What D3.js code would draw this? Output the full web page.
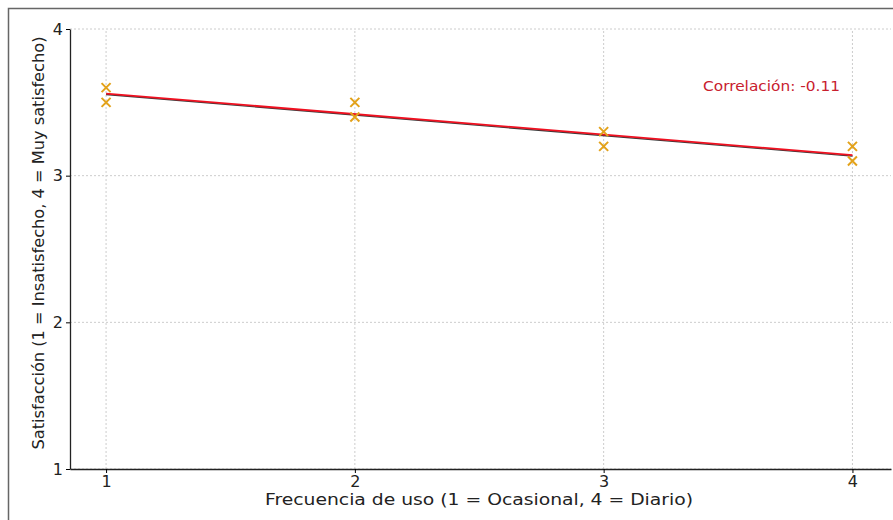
<!DOCTYPE html>
<html>
<head>
<meta charset="utf-8">
<script src="https://cdn.jsdelivr.net/npm/d3@7"></script>
<style>
  body { margin: 0; background: #fff; }
  svg { display: block; font-family: "DejaVu Sans", sans-serif; }
</style>
</head>
<body>
<div id="chart"></div>
<script>
// data
const frequency = [1, 1, 2, 2, 3, 3, 4, 4];
const satisfaction = [3.6, 3.5, 3.5, 3.4, 3.3, 3.2, 3.2, 3.1];
const xTicks = [1, 2, 3, 4];
const yTicks = [1, 2, 3, 4];
const corrLabel = "Correlación: -0.11";

const width = 893, height = 520;
const margin = { top: 29, right: 2, bottom: 51, left: 70 };

const svg = d3.select("#chart").append("svg")
    .attr("width", width)
    .attr("height", height);

// outer frame (cut at bottom/right in the reference)
svg.append("path")
    .attr("d", `M8.5,${height} V8.5 H${width}`)
    .attr("fill", "none")
    .attr("stroke", "#666")
    .attr("stroke-width", 1.5);

const x = d3.scaleLinear()
    .domain([0.855, 4.155])
    .range([margin.left, width - margin.right]);

const y = d3.scaleLinear()
    .domain([1, 4])
    .range([height - margin.bottom, margin.top]);

// grid
svg.append("g")
    .selectAll("line")
    .data(xTicks)
    .join("line")
    .attr("x1", d => x(d)).attr("x2", d => x(d))
    .attr("y1", y(1)).attr("y2", y(4))
    .attr("stroke", "#ccc")
    .attr("stroke-dasharray", "2,2");

svg.append("g")
    .selectAll("line")
    .data(yTicks)
    .join("line")
    .attr("x1", margin.left).attr("x2", width - margin.right)
    .attr("y1", d => y(d)).attr("y2", d => y(d))
    .attr("stroke", "#ccc")
    .attr("stroke-dasharray", "2,2");

// axes
svg.append("g")
    .attr("transform", `translate(0,${y(1)})`)
    .call(d3.axisBottom(x).tickValues(xTicks).tickFormat(d3.format("d")).tickSize(4).tickSizeOuter(0))
    .call(g => g.select(".domain").attr("stroke", "#222").attr("stroke-width", 1.3))
    .call(g => g.selectAll("text").attr("font-size", 16).attr("fill", "#222").attr("font-family", "DejaVu Sans"));

svg.append("g")
    .attr("transform", `translate(${margin.left},0)`)
    .call(d3.axisLeft(y).tickValues(yTicks).tickFormat(d3.format("d")).tickSize(4).tickSizeOuter(0))
    .call(g => g.select(".domain").attr("stroke", "#222").attr("stroke-width", 1.3))
    .call(g => g.selectAll("text").attr("font-size", 16).attr("fill", "#222").attr("font-family", "DejaVu Sans"));

// least squares fit from the points
const mx = d3.mean(frequency), my = d3.mean(satisfaction);
const slope = d3.sum(frequency, (f, i) => (f - mx) * (satisfaction[i] - my)) /
    d3.sum(frequency, f => (f - mx) ** 2);
const fit = v => my + slope * (v - mx);
const fitPts = d3.extent(frequency).map(v => [v, fit(v)]);
const line = d3.line().x(d => x(d[0])).y(d => y(d[1]));

svg.append("path")
    .datum(fitPts)
    .attr("d", line)
    .attr("transform", "translate(0,1)")
    .attr("fill", "none")
    .attr("stroke", "#3a3a3a")
    .attr("stroke-width", 1.4);

svg.append("path")
    .datum(fitPts)
    .attr("d", line)
    .attr("fill", "none")
    .attr("stroke", "#f01020")
    .attr("stroke-width", 1.8);

// markers
const s = 4.5;
svg.append("g")
    .selectAll("path")
    .data(frequency.map((f, i) => [f, satisfaction[i]]))
    .join("path")
    .attr("d", d => {
        const cx = x(d[0]), cy = y(d[1]);
        return `M${cx - s},${cy - s}L${cx + s},${cy + s}M${cx - s},${cy + s}L${cx + s},${cy - s}`;
    })
    .attr("stroke", "#e3a21a")
    .attr("stroke-width", 2);

// correlation note
svg.append("text")
    .attr("x", 703)
    .attr("y", 91)
    .attr("font-size", 14)
    .attr("textLength", 137)
    .attr("lengthAdjust", "spacingAndGlyphs")
    .attr("fill", "#c8202e")
    .text(corrLabel);

// axis titles
svg.append("text")
    .attr("x", 479)
    .attr("y", 505)
    .attr("text-anchor", "middle")
    .attr("font-size", 16)
    .attr("textLength", 428)
    .attr("lengthAdjust", "spacingAndGlyphs")
    .attr("fill", "#222")
    .text("Frecuencia de uso (1 = Ocasional, 4 = Diario)");

svg.append("text")
    .attr("transform", `translate(44,${(y(1) + y(4)) / 2 - 6}) rotate(-90)`)
    .attr("text-anchor", "middle")
    .attr("font-size", 16)
    .attr("textLength", 413)
    .attr("lengthAdjust", "spacingAndGlyphs")
    .attr("fill", "#222")
    .text("Satisfacción (1 = Insatisfecho, 4 = Muy satisfecho)");
</script>
</body>
</html>
